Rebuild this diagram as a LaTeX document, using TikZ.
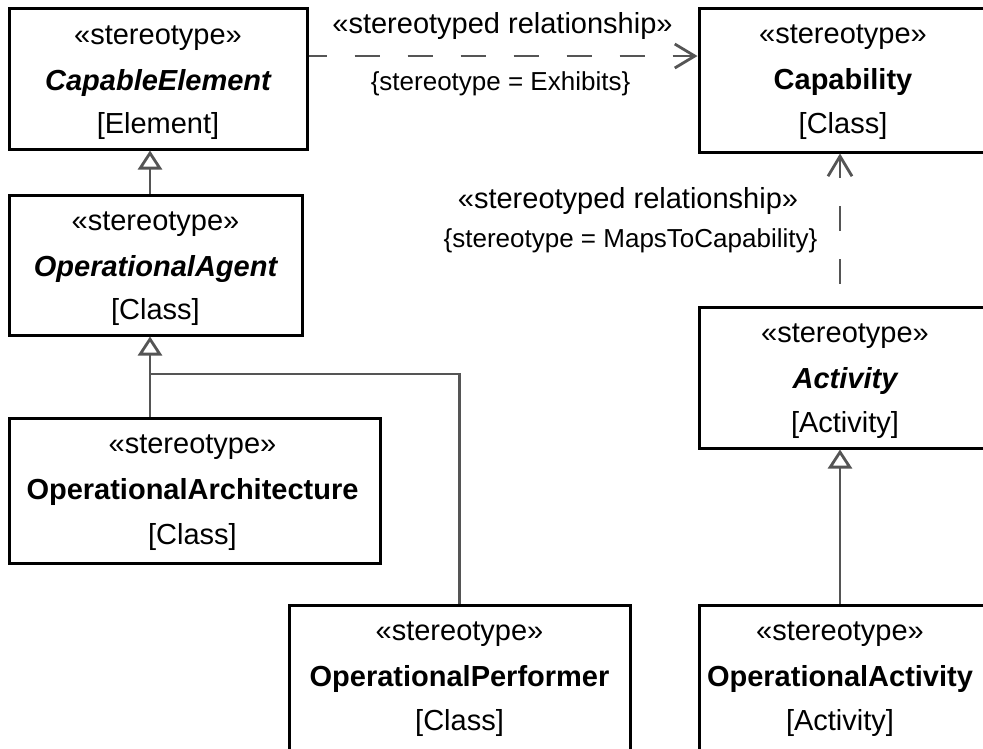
\documentclass[tikz,border=0pt]{standalone}
\usepackage{fontspec}
\setmainfont{Liberation Sans}
\usetikzlibrary{arrows.meta}
\definecolor{conncol}{HTML}{555555}
\tikzset{
  umlbox/.style={draw=black, line width=3pt, inner sep=0pt, fill=white},
  txt/.style={anchor=base, inner sep=0pt, font=\fontsize{29}{34}\selectfont},
  smalltxt/.style={anchor=base, inner sep=0pt, font=\fontsize{26}{30}\selectfont},
  genline/.style={draw=conncol, line width=2.8pt, -{Triangle[length=19pt, width=24pt, fill=white]}},
  plainline/.style={draw=conncol, line width=2.8pt},
  depline/.style={draw=conncol, line width=2.8pt, dash pattern=on 25pt off 28pt, -{Straight Barb[length=20pt, width=24pt]}}
}
\begin{document}
\begin{tikzpicture}[x=1pt, y=-1pt]
\useasboundingbox (0,0) rectangle (983,748);
\fill[white] (0,0) rectangle (983,748);
\clip (0,0) rectangle (983,748);

% boxes
\node[umlbox, minimum width=298pt, minimum height=141pt] (ce) at (158,78.5) {};
\node[umlbox, minimum width=293pt, minimum height=140pt] (oa) at (155.5,265) {};
\node[umlbox, minimum width=371pt, minimum height=145pt] (oarch) at (194.5,490.5) {};
\node[umlbox, minimum width=341pt, minimum height=160pt] (op) at (459.5,685) {};
\node[umlbox, minimum width=291pt, minimum height=144pt] (cap) at (844.5,80) {};
\node[umlbox, minimum width=293pt, minimum height=141pt] (act) at (845.5,377.5) {};
\node[umlbox, minimum width=291pt, minimum height=160pt] (opact) at (844.5,685) {};

% texts
\node[txt] (ce1) at (158,44) {«stereotype»};
\node[txt] (ce2) at (158,90) {\bfseries\itshape CapableElement};
\node[txt] (ce3) at (158,133) {[Element]};

\node[txt] (oa1) at (155.5,230) {«stereotype»};
\node[txt] (oa2) at (155.5,276) {\bfseries\itshape OperationalAgent};
\node[txt] (oa3) at (155.5,319) {[Class]};

\node[txt] (oar1) at (192.5,453) {«stereotype»};
\node[txt] (oar2) at (192.5,499) {\bfseries OperationalArchitecture};
\node[txt] (oar3) at (192.5,544) {[Class]};

\node[txt] (op1) at (459.5,640) {«stereotype»};
\node[txt] (op2) at (459.5,686) {\bfseries OperationalPerformer};
\node[txt] (op3) at (459.5,730) {[Class]};

\node[txt] (cap1) at (843,43) {«stereotype»};
\node[txt] (cap2) at (843,89) {\bfseries Capability};
\node[txt] (cap3) at (843,133) {[Class]};

\node[txt] (act1) at (845,342) {«stereotype»};
\node[txt] (act2) at (845,388) {\bfseries\itshape Activity};
\node[txt] (act3) at (845,432) {[Activity]};

\node[txt] (opa1) at (840,640) {«stereotype»};
\node[txt] (opa2) at (840,686) {\bfseries OperationalActivity};
\node[txt] (opa3) at (840,730) {[Activity]};

% connector labels
\node[txt] (l1) at (502.5,33) {«stereotyped relationship»};
\node[smalltxt] (l2) at (500.5,90) {\{stereotype = Exhibits\}};
\node[txt] (l3) at (628,208) {«stereotyped relationship»};
\node[smalltxt] (l4) at (630.5,247) {\{stereotype = MapsToCapability\}};

% helper coordinates
\coordinate (g1) at (150,0);
\coordinate (g3) at (840,0);
\coordinate (h1) at (0,56);
\coordinate (j) at (150,374);

% connectors
\draw[genline] (oa.north -| g1) -- (ce.south -| g1);
\draw[genline] (oarch.north -| g1) -- (oa.south -| g1);
\draw[plainline] (op.north) |- (j);
\draw[genline] (opact.north -| g3) -- (act.south -| g3);
\draw[depline, dash phase=7pt] (ce.east |- h1) -- (cap.west |- h1);
\draw[depline, dash phase=31pt] (act.north -| g3) -- (cap.south -| g3);
\end{tikzpicture}
\end{document}
